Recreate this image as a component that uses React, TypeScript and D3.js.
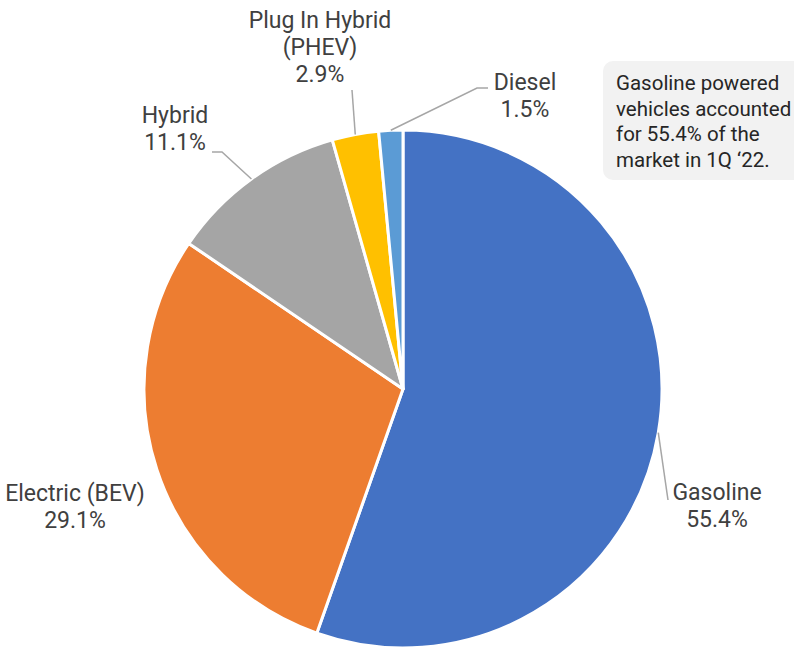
import React from "react";
import * as d3 from "d3";

const categories = ["Gasoline", "Electric (BEV)", "Hybrid", "Plug In Hybrid (PHEV)", "Diesel"];
const values = [55.4, 29.1, 11.1, 2.9, 1.5];
const colors = ["#4472C4", "#ED7D31", "#A5A5A5", "#FFC000", "#5B9BD5"];
const labelLines = [["Gasoline"], ["Electric (BEV)"], ["Hybrid"], ["Plug In Hybrid", "(PHEV)"], ["Diesel"]];
const annotationLines = ["Gasoline powered", "vehicles accounted", "for 55.4% of the", "market in 1Q \u201822."];

const W = 794, H = 647;
const cx = 403, cy = 389, R = 259;
const FONT = "Roboto, 'Liberation Sans', sans-serif";

// label layout: center x, first baseline y, leader path bend points (after the arc point)
const labelLayout = [
  { x: 717, y: 500, leader: [[668, 500]] },
  { x: 75, y: 501, leader: null },
  { x: 175, y: 123, leader: [[222, 152], [212, 152]] },
  { x: 320, y: 28, leader: [[352, 90]] },
  { x: 525, y: 90, leader: [[477, 88], [488, 88]] },
];

export default function App() {
  const pie = d3.pie<number>().sort(null).value((d) => d)(values);
  const arc = d3.arc<d3.PieArcDatum<number>>().innerRadius(0).outerRadius(R);
  const lh = 27;
  return (
    <svg width={W} height={H} style={{ position: "absolute", left: 0, top: 0, background: "#fff" }}>
      <g transform={`translate(${cx},${cy})`}>
        {pie.map((p, i) => (
          <path key={i} d={arc(p) || ""} fill={colors[i]} stroke="#fff" strokeWidth={3} strokeLinejoin="round" />
        ))}
      </g>
      {pie.map((p, i) => {
        const L = labelLayout[i];
        if (!L.leader) return null;
        const a = (p.startAngle + p.endAngle) / 2;
        const sx = cx + R * Math.sin(a);
        const sy = cy - R * Math.cos(a);
        const pts = [[sx, sy], ...L.leader];
        return (
          <polyline key={"l" + i} points={pts.map((q) => q.join(",")).join(" ")} fill="none" stroke="#A6A6A6" strokeWidth={1.5} />
        );
      })}
      {pie.map((p, i) => {
        const L = labelLayout[i];
        const lines = [...labelLines[i], `${values[i].toFixed(1)}%`];
        return (
          <text key={"t" + i} x={L.x} y={L.y} textAnchor="middle" fontFamily={FONT} fontSize={23} fill="#404040">
            {lines.map((s, j) => (
              <tspan key={j} x={L.x} dy={j === 0 ? 0 : lh}>{s}</tspan>
            ))}
          </text>
        );
      })}
      <rect x={603} y={61} width={220} height={119} rx={10} fill="#F2F2F2" />
      <text x={616} y={90} fontFamily={FONT} fontSize={20.5} fill="#262626">
        {annotationLines.map((s, j) => (
          <tspan key={j} x={616} dy={j === 0 ? 0 : 25.7}>{s}</tspan>
        ))}
      </text>
    </svg>
  );
}
